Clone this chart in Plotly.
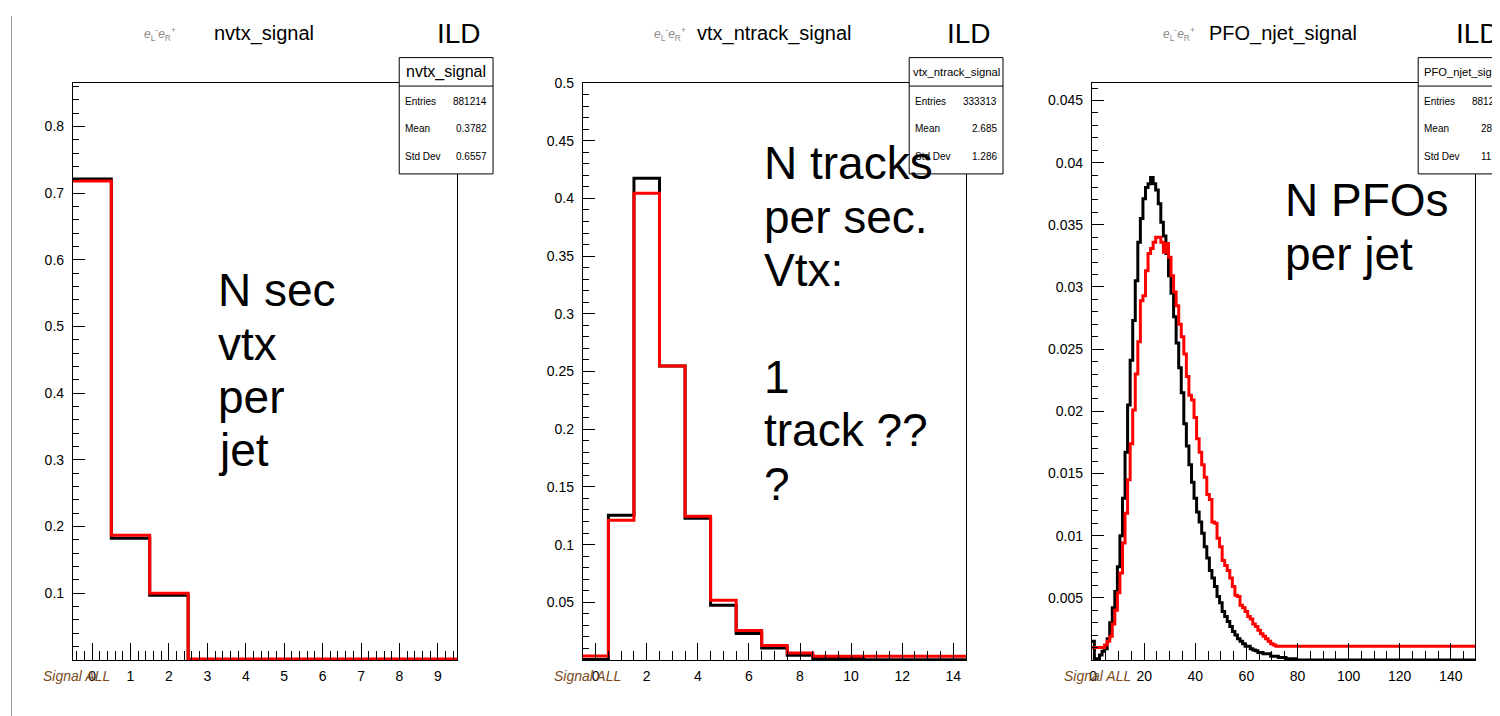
import plotly.graph_objects as go

W, H = 1500, 716

# ---------------- data ----------------
# Panel 1: nvtx_signal (bin centres 0..9, width 1)
nvtx_bins = [0, 1, 2, 3, 4, 5, 6, 7, 8, 9]
nvtx_black = [0.721, 0.1825, 0.0972, 0.0, 0.0, 0.0, 0.0, 0.0, 0.0, 0.0]
nvtx_red = [0.718, 0.187, 0.100, 0.0015, 0.0015, 0.0015, 0.0015, 0.0015, 0.0015, 0.0015]

# Panel 2: vtx_ntrack_signal (bin centres 0..14)
ntrk_bins = [0, 1, 2, 3, 4, 5, 6, 7, 8, 9, 10, 11, 12, 13, 14]
ntrk_black = [0.0005, 0.1255, 0.4176, 0.2547, 0.1229, 0.0474, 0.0229, 0.0104, 0.0041,
              0.0012, 0.0012, 0.0003, 0.0003, 0.0003, 0.0003]
ntrk_red = [0.0035, 0.121, 0.4046, 0.2547, 0.1246, 0.0518, 0.0255, 0.0125, 0.0061,
            0.0032, 0.0032, 0.0032, 0.0032, 0.0032, 0.0032]

# Panel 3: PFO_njet_signal (bin centres 0..149)
pfo_bins = list(range(150))
pfo_black = [
    0.0015, 0.0001, 0.0001, 0.0004, 0.0007, 0.0009, 0.0017, 0.0030, 0.0042, 0.0055,
    0.0075, 0.0100, 0.0130, 0.0167, 0.0205, 0.0241, 0.0273, 0.0305, 0.0336, 0.0355,
    0.0371, 0.0380, 0.0383, 0.0388, 0.0383, 0.0378, 0.0367, 0.0352, 0.0341, 0.0327,
    0.0309, 0.0295, 0.0276, 0.0255, 0.0235, 0.0215, 0.0190, 0.0172, 0.0157, 0.0143,
    0.0130, 0.0119, 0.0111, 0.0102, 0.0091, 0.0082, 0.0072, 0.0066, 0.0059, 0.0051,
    0.0046, 0.0039, 0.0035, 0.0031, 0.0027, 0.0023, 0.0020, 0.0017, 0.0015, 0.0013,
    0.0011, 0.0011, 0.0009, 0.0008, 0.00075, 0.0006, 0.0006, 0.0005, 0.0005, 0.0005,
    0.0003, 0.0003, 0.0003, 0.0002, 0.0002, 0.0002, 0.0001, 0.0001, 0.0001, 0.0001,
    0.0, 0.0, 0.0, 0.0, 0.0, 0.0, 0.0, 0.0, 0.0, 0.0,
    0.0, 0.0, 0.0, 0.0, 0.0, 0.0, 0.0, 0.0, 0.0, 0.0,
    0.0, 0.0, 0.0, 0.0, 0.0, 0.0, 0.0, 0.0, 0.0, 0.0,
    0.0, 0.0, 0.0, 0.0, 0.0, 0.0, 0.0, 0.0, 0.0, 0.0,
    0.0, 0.0, 0.0, 0.0, 0.0, 0.0, 0.0, 0.0, 0.0, 0.0,
    0.0, 0.0, 0.0, 0.0, 0.0, 0.0, 0.0, 0.0, 0.0, 0.0,
    0.0, 0.0, 0.0, 0.0, 0.0, 0.0, 0.0, 0.0, 0.0, 0.0,
]
pfo_red = [
    0.0010, 0.0010, 0.0010, 0.0010, 0.0010, 0.0012, 0.0015, 0.0019, 0.0029, 0.0040,
    0.0054, 0.0070, 0.0094, 0.0118, 0.0145, 0.0174, 0.0201, 0.0230, 0.0256, 0.0289,
    0.0293, 0.0313, 0.0327, 0.0331, 0.0336, 0.0340, 0.0340, 0.0336, 0.0328, 0.0335,
    0.0324, 0.0309, 0.0296, 0.0285, 0.0270, 0.0260, 0.0246, 0.0228, 0.0213, 0.0209,
    0.0195, 0.0178, 0.0167, 0.0157, 0.0147, 0.0133, 0.0129, 0.0111, 0.0110, 0.0098,
    0.0091, 0.0080, 0.0076, 0.0072, 0.0066, 0.0059, 0.0052, 0.0051, 0.0044, 0.0042,
    0.0039, 0.0035, 0.0033, 0.0029, 0.0027, 0.0024, 0.0021, 0.0019, 0.0017, 0.0015,
    0.0013, 0.0012, 0.0011, 0.0011, 0.0011, 0.0011, 0.0011, 0.0011, 0.0011, 0.0011,
    0.0011, 0.0011, 0.0011, 0.0011, 0.0011, 0.0011, 0.0011, 0.0011, 0.0011, 0.0011,
    0.0011, 0.0011, 0.0011, 0.0011, 0.0011, 0.0011, 0.0011, 0.0011, 0.0011, 0.0011,
    0.0011, 0.0011, 0.0011, 0.0011, 0.0011, 0.0011, 0.0011, 0.0011, 0.0011, 0.0011,
    0.0011, 0.0011, 0.0011, 0.0011, 0.0011, 0.0011, 0.0011, 0.0011, 0.0011, 0.0011,
    0.0011, 0.0011, 0.0011, 0.0011, 0.0011, 0.0011, 0.0011, 0.0011, 0.0011, 0.0011,
    0.0011, 0.0011, 0.0011, 0.0011, 0.0011, 0.0011, 0.0011, 0.0011, 0.0011, 0.0011,
    0.0011, 0.0011, 0.0011, 0.0011, 0.0011, 0.0011, 0.0011, 0.0011, 0.0011, 0.0011,
]

titles = ["nvtx_signal", "vtx_ntrack_signal", "PFO_njet_signal"]
entries = ["881214", "333313", "881214"]
means = ["0.3782", "2.685", "28.25"]
stddevs = ["0.6557", "1.286", "11.55"]

y1_ticks = [0.1, 0.2, 0.3, 0.4, 0.5, 0.6, 0.7, 0.8]
y2_ticks = [0.05, 0.1, 0.15, 0.2, 0.25, 0.3, 0.35, 0.4, 0.45, 0.5]
y3_ticks = [0.005, 0.01, 0.015, 0.02, 0.025, 0.03, 0.035, 0.04, 0.045]
x1_ticks = [0, 1, 2, 3, 4, 5, 6, 7, 8, 9]
x2_ticks = [0, 2, 4, 6, 8, 10, 12, 14]
x3_ticks = [0, 20, 40, 60, 80, 100, 120, 140]

big_text1 = ["N sec", "vtx", "per", "jet"]
big_text2 = ["N tracks", "per sec.", "Vtx:", "", "1", "track ??", "?"]
big_text3 = ["N PFOs", "per jet"]

FONT = "Liberation Sans, Arial, Helvetica, sans-serif"

# page placement correction (figure appears offset in the page)
OX, OY, SY = 10.0, 14.3, 0.9907


def px(x):
    return (x - OX) / W


def py(y):
    return 1 - ((y - OY) / SY) / H


def step(centers, vals):
    xs = [c - 0.5 for c in centers] + [centers[-1] + 0.5]
    ys = list(vals) + [vals[-1]]
    return xs, ys


fig = go.Figure()

panels = [
    dict(bins=nvtx_bins, black=nvtx_black, red=nvtx_red, x0=72, x1=457,
         xr=[-0.5, 9.5], yr=[0, 0.865], yt=y1_ticks, xt=x1_ticks,
         xmin=0.2, ymin=0.02),
    dict(bins=ntrk_bins, black=ntrk_black, red=ntrk_red, x0=583, x1=967,
         xr=[-0.5, 14.5], yr=[0, 0.5], yt=y2_ticks, xt=x2_ticks,
         xmin=0.5, ymin=0.01),
    dict(bins=pfo_bins, black=pfo_black, red=pfo_red, x0=1093, x1=1477,
         xr=[-0.5, 149.5], yr=[0, 0.0464], yt=y3_ticks, xt=x3_ticks,
         xmin=5, ymin=0.001),
]

top_px, bot_px = 81.5, 659.5
layout_axes = {}
for i, p in enumerate(panels):
    n = "" if i == 0 else str(i + 1)
    xa, ya = "x" + n, "y" + n
    for vals, col in ((p["black"], "black"), (p["red"], "#ff0000")):
        xs, ys = step(p["bins"], vals)
        fig.add_trace(go.Scatter(x=xs, y=ys, mode="lines", line_shape="hv",
                                 line=dict(color=col, width=3), xaxis=xa, yaxis=ya,
                                 showlegend=False, hoverinfo="skip"))
    layout_axes["xaxis" + n] = dict(
        domain=[px(p["x0"]), px(p["x1"])], range=p["xr"], anchor=ya,
        showline=True, mirror=True, linecolor="black", linewidth=1,
        showgrid=False, zeroline=False, ticks="inside", ticklen=17,
        tickcolor="black", tickwidth=1, tickmode="array", tickvals=p["xt"],
        ticktext=[str(v) for v in p["xt"]], ticklabelstandoff=3,
        tickfont=dict(family=FONT, size=14, color="black"),
        minor=dict(ticks="inside", ticklen=9, tickcolor="black", tickwidth=1,
                   dtick=p["xmin"], tick0=0),
    )
    layout_axes["yaxis" + n] = dict(
        domain=[py(bot_px), py(top_px)], range=p["yr"], anchor=xa,
        showline=True, mirror=True, linecolor="black", linewidth=1,
        showgrid=False, zeroline=False, ticks="inside", ticklen=12,
        tickcolor="black", tickwidth=1, tickmode="array", tickvals=p["yt"],
        ticktext=[("%g" % v) for v in p["yt"]], ticklabelstandoff=5,
        tickfont=dict(family=FONT, size=14, color="black"),
        minor=dict(ticks="inside", ticklen=6, tickcolor="black", tickwidth=1,
                   dtick=p["ymin"], tick0=0),
    )

fig.update_layout(**layout_axes)

ann = []
shapes = []


def text(x, y, s, size, color="black", xanchor="center", yanchor="middle"):
    ann.append(dict(x=px(x), y=py(y), xref="paper", yref="paper", text=s,
                    showarrow=False, xanchor=xanchor, yanchor=yanchor,
                    font=dict(family=FONT, size=size, color=color)))


ee = "<i>e</i><sub>L</sub><sup>-</sup><i>e</i><sub>R</sub><sup>+</sup>"
ee_x = [159, 670, 1180]
title_x = [264, 775, 1285]
ild_x = [459, 970, 1480]
box_left = [399, 910, 1420]
box_title_size = [16, 11.3, 11.2]
sig_x = [76, 588, 1099]

for i in range(3):
    text(ee_x[i], 32, ee, 12, color="#8a8a8a")
    text(title_x[i], 32, titles[i], 20)
    text(ild_x[i], 32, "ILD", 28)
    bl = box_left[i]
    br = bl + 94
    shapes.append(dict(type="rect", xref="paper", yref="paper", x0=px(bl), x1=px(br),
                       y0=py(172.5), y1=py(56), fillcolor="white",
                       line=dict(color="black", width=1), layer="above"))
    shapes.append(dict(type="line", xref="paper", yref="paper", x0=px(bl), x1=px(br),
                       y0=py(84.5), y1=py(84.5), line=dict(color="black", width=1),
                       layer="above"))
    text((bl + br) / 2, 70, titles[i], box_title_size[i])
    for lab, val, yy in (("Entries", entries[i], 100), ("Mean", means[i], 127.5),
                         ("Std Dev", stddevs[i], 155.5)):
        text(bl + 4, yy, lab, 10, xanchor="left")
        text(bl + 90, yy, val, 10, xanchor="right")
    text(sig_x[i], 676, "<i>Signal ALL</i>", 14, color="#7a4a1c")

line_h = 53.5
for k, s in enumerate(big_text1):
    if s:
        text(215, 289 + k * line_h, s, 46, xanchor="left")
for k, s in enumerate(big_text2):
    if s:
        text(763, 162 + k * line_h, s, 46, xanchor="left")
for k, s in enumerate(big_text3):
    if s:
        text(1285, 199 + k * line_h, s, 46, xanchor="left")

shapes.append(dict(type="line", xref="paper", yref="paper", x0=px(10.5), x1=px(10.5),
                   y0=0, y1=1, line=dict(color="#9a9a9a", width=1), layer="below"))

fig.update_layout(
    width=W, height=H, margin=dict(l=0, r=0, t=0, b=0),
    paper_bgcolor="white", plot_bgcolor="white",
    annotations=ann, shapes=shapes, showlegend=False,
)

fig.write_html("out.html")
